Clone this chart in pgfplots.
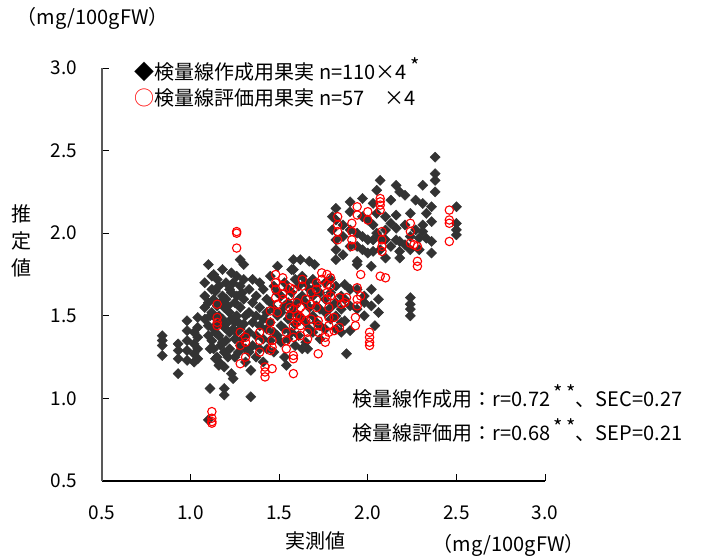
\documentclass[border=0pt]{standalone}
\usepackage{fontspec}
\setmainfont{Noto Sans CJK JP}
\usepackage{pgfplots}
\pgfplotsset{compat=1.18}
\definecolor{dgray}{HTML}{333333}
\definecolor{axgray}{HTML}{595959}
\newcommand{\st}{\raisebox{0.55ex}{*}}
\begin{document}
\fontsize{20}{24}\selectfont
\begin{tikzpicture}[x=1pt,y=1pt]
\useasboundingbox (0,0) rectangle (702,558);
\begin{axis}[
  at={(102pt,77pt)}, anchor=south west,
  width=443pt, height=413pt, scale only axis,
  xmin=0.5, xmax=3.0, ymin=0.5, ymax=3.0,
  axis x line*=bottom, axis y line*=left,
  x axis line style={black, line width=1.2pt, -},
  y axis line style={axgray, line width=2pt, -},
  xtick={0.5,1.0,1.5,2.0,2.5,3.0},
  ytick={0.5,1.0,1.5,2.0,2.5,3.0},
  tick align=inside, major tick length=7pt,
  tick style={black, line width=1pt},
  ticklabel style={font=\fontsize{19}{20}\selectfont},
  xticklabel style={yshift=-18pt},
  yticklabel style={xshift=-18pt},
  /pgf/number format/fixed,
  /pgf/number format/fixed zerofill,
  /pgf/number format/precision=1,
  /pgf/number format/assume math mode=true,
  clip=false,
]
% 検量線作成用果実
\addplot[only marks, mark=square*, mark size=3.6pt, mark options={rotate=45, fill=dgray, draw=dgray}] coordinates {
(0.84,1.38)(0.84,1.35)(0.84,1.32)(0.84,1.26)
(0.93,1.33)(0.93,1.29)(0.93,1.24)(0.93,1.15)
(0.98,1.47)(0.98,1.41)(0.98,1.35)(0.98,1.29)(0.98,1.23)
(1.02,1.40)(1.02,1.33)(1.02,1.27)(1.02,1.22)
(1.04,1.49)(1.04,1.43)(1.04,1.37)(1.04,1.30)(1.04,1.24)
(1.08,1.70)(1.08,1.62)(1.08,1.55)(1.08,1.48)
(1.10,1.81)(1.10,1.58)(1.10,1.44)(1.10,1.38)(1.10,0.87)
(1.11,1.06)(1.11,1.50)(1.11,1.30)
(1.12,1.74)(1.12,1.66)(1.12,1.52)(1.12,1.35)
(1.13,1.75)(1.13,1.60)(1.13,1.50)(1.13,1.42)(1.13,1.30)
(1.14,1.65)(1.14,1.40)(1.14,1.24)
(1.15,1.72)(1.15,1.56)(1.15,1.45)(1.15,1.25)
(1.16,1.68)(1.16,1.50)(1.16,1.38)(1.16,1.20)
(1.17,1.21)(1.17,1.58)(1.17,1.32)
(1.18,1.78)(1.18,1.62)(1.18,1.48)(1.18,1.34)
(1.19,1.55)(1.19,1.43)(1.19,1.28)(1.19,1.19)(1.19,1.06)(1.19,1.02)
(1.20,1.70)(1.20,1.60)(1.20,1.45)(1.20,1.35)
(1.21,1.56)(1.21,1.25)
(1.22,1.66)(1.22,1.52)(1.22,1.40)(1.22,1.30)
(1.23,1.76)(1.23,1.64)(1.23,1.48)(1.23,1.15)
(1.24,1.12)(1.24,1.70)(1.24,1.42)
(1.25,1.58)(1.25,1.46)(1.25,1.36)(1.25,1.25)
(1.26,1.74)(1.26,1.62)(1.26,1.50)(1.26,1.40)
(1.27,1.46)(1.27,1.28)
(1.28,1.84)(1.28,1.68)(1.28,1.55)(1.28,1.42)(1.28,1.32)
(1.29,1.36)(1.29,1.64)
(1.30,1.81)(1.30,1.72)(1.30,1.60)(1.30,1.45)
(1.31,1.50)(1.31,1.38)(1.31,1.30)(1.31,1.22)
(1.33,1.66)(1.33,1.52)(1.33,1.40)(1.33,1.28)
(1.34,1.17)(1.34,1.01)
(1.35,1.72)(1.35,1.58)(1.35,1.46)(1.35,1.32)
(1.37,1.62)(1.37,1.50)(1.37,1.38)(1.37,1.25)
(1.39,1.70)(1.39,1.55)(1.39,1.44)(1.39,1.30)
(1.41,1.66)(1.41,1.48)(1.41,1.36)(1.41,1.22)
(1.43,1.60)(1.43,1.52)(1.43,1.42)(1.43,1.30)
(1.45,1.74)(1.45,1.58)(1.45,1.46)(1.45,1.35)
(1.47,1.68)(1.47,1.54)(1.47,1.40)(1.47,1.28)
(1.49,1.80)(1.49,1.64)(1.49,1.50)(1.49,1.38)
(1.51,1.62)(1.51,1.52)(1.51,1.44)(1.51,1.34)
(1.53,1.70)(1.53,1.56)(1.53,1.42)(1.53,1.25)
(1.54,1.20)
(1.55,1.66)(1.55,1.58)(1.55,1.48)(1.55,1.36)
(1.57,1.78)(1.57,1.64)(1.57,1.52)(1.57,1.40)
(1.58,1.84)(1.58,1.78)
(1.59,1.72)(1.59,1.56)(1.59,1.45)(1.59,1.32)
(1.61,1.68)(1.61,1.60)(1.61,1.50)(1.61,1.38)
(1.62,1.84)
(1.63,1.74)(1.63,1.62)(1.63,1.48)(1.63,1.30)
(1.65,1.70)(1.65,1.58)(1.65,1.46)(1.65,1.34)
(1.66,1.30)
(1.67,1.83)(1.67,1.66)(1.67,1.55)(1.67,1.42)
(1.69,1.72)(1.69,1.62)(1.69,1.50)(1.69,1.40)
(1.70,1.81)
(1.71,1.68)(1.71,1.56)(1.71,1.46)
(1.73,1.64)(1.73,1.54)(1.73,1.44)(1.73,1.36)
(1.76,1.70)(1.76,1.60)(1.76,1.52)(1.76,1.42)
(1.79,1.72)(1.79,1.64)(1.79,1.55)(1.79,1.48)
(1.82,1.68)(1.82,1.58)(1.82,1.50)(1.82,1.42)
(1.85,1.62)(1.85,1.54)(1.85,1.46)(1.85,1.40)
(1.87,1.69)(1.87,1.60)(1.87,1.47)
(1.88,1.27)
(1.90,1.66)(1.90,1.56)(1.90,1.41)
(1.94,1.81)(1.94,1.66)(1.94,1.54)
(1.98,1.62)(1.98,1.58)(1.98,1.50)
(2.02,1.80)(2.02,1.66)(2.02,1.56)
(2.04,1.44)
(2.06,1.60)(2.06,1.52)
(2.24,1.61)(2.24,1.57)(2.24,1.54)(2.24,1.50)
(1.80,2.10)(1.80,2.02)
(1.82,2.15)(1.82,2.08)(1.82,1.96)(1.82,1.90)(1.82,1.84)
(1.86,2.05)(1.86,1.98)(1.86,1.87)
(1.90,2.19)(1.90,2.13)(1.90,2.02)(1.90,1.92)
(1.94,2.00)(1.94,1.92)(1.94,1.83)
(1.97,2.21)(1.97,2.10)(1.97,1.98)(1.97,1.90)
(2.00,2.08)(2.00,1.96)(2.00,1.88)
(2.03,2.18)(2.03,2.05)(2.03,1.96)(2.03,1.89)
(2.05,2.26)(2.05,2.12)(2.05,2.00)
(2.07,2.32)(2.07,1.97)(2.07,1.90)
(2.10,2.10)(2.10,2.02)(2.10,1.96)(2.10,1.85)
(2.13,2.20)(2.13,2.06)(2.13,1.92)
(2.16,2.29)(2.16,2.11)(2.16,2.03)(2.16,1.96)
(2.18,2.25)(2.18,1.95)(2.18,1.89)(2.18,1.85)
(2.21,2.23)(2.21,2.05)(2.21,1.93)
(2.24,2.12)(2.24,1.98)(2.24,1.90)
(2.27,2.20)(2.27,2.02)
(2.29,1.97)(2.29,1.90)
(2.31,2.29)(2.31,2.18)(2.31,2.05)(2.31,2.01)
(2.33,2.12)(2.33,1.97)
(2.36,2.16)(2.36,2.07)(2.36,1.95)(2.36,1.88)
(2.38,2.46)(2.38,2.36)(2.38,2.32)(2.38,2.25)
(2.50,2.16)(2.50,2.06)(2.50,2.02)(2.50,1.99)
};
% 検量線評価用果実
\addplot[only marks, mark=o, mark size=4.2pt, mark options={draw=red, line width=1.1pt}] coordinates {
(1.12,0.92)(1.12,0.88)(1.12,0.86)(1.12,0.85)
(1.15,1.57)(1.15,1.49)(1.15,1.46)(1.15,1.44)
(1.26,2.01)(1.26,2.00)(1.26,1.91)
(1.28,1.40)(1.28,1.32)(1.28,1.21)
(1.31,1.37)(1.31,1.34)(1.31,1.25)
(1.39,1.40)(1.39,1.35)(1.39,1.28)
(1.42,1.19)(1.42,1.16)(1.42,1.13)
(1.45,1.53)(1.45,1.46)(1.45,1.41)(1.45,1.29)
(1.46,1.35)(1.46,1.31)(1.46,1.18)
(1.48,1.75)(1.48,1.70)(1.48,1.66)(1.48,1.61)
(1.49,1.57)(1.49,1.52)
(1.52,1.73)(1.52,1.68)(1.52,1.63)(1.52,1.60)
(1.54,1.40)(1.54,1.35)(1.54,1.30)
(1.56,1.67)(1.56,1.62)(1.56,1.55)(1.56,1.50)
(1.58,1.66)(1.58,1.54)(1.58,1.44)(1.58,1.37)(1.58,1.26)(1.58,1.24)(1.58,1.15)
(1.60,1.58)(1.60,1.50)(1.60,1.46)
(1.62,1.55)(1.62,1.49)(1.62,1.44)(1.62,1.38)
(1.63,1.72)(1.63,1.68)
(1.65,1.60)(1.65,1.52)(1.65,1.47)
(1.66,1.40)(1.66,1.36)
(1.68,1.64)(1.68,1.57)(1.68,1.48)
(1.71,1.70)(1.71,1.66)(1.71,1.60)(1.71,1.55)
(1.72,1.47)(1.72,1.44)(1.72,1.40)(1.72,1.27)
(1.74,1.76)(1.74,1.72)
(1.76,1.37)(1.76,1.34)
(1.77,1.75)(1.77,1.69)(1.77,1.64)(1.77,1.60)
(1.78,1.55)(1.78,1.49)(1.78,1.44)(1.78,1.40)
(1.79,1.73)(1.79,1.68)(1.79,1.62)
(1.81,1.49)(1.81,1.41)
(1.83,2.10)(1.83,2.05)(1.83,2.01)(1.83,1.96)
(1.84,1.61)(1.84,1.43)
(1.85,1.57)
(1.87,1.58)
(1.88,1.61)
(1.91,2.06)(1.91,2.01)(1.91,1.96)(1.91,1.92)
(1.93,1.49)(1.93,1.44)
(1.94,2.16)(1.94,2.11)(1.94,1.67)(1.94,1.60)(1.94,1.56)
(1.96,1.75)(1.96,1.62)
(2.00,2.13)(2.00,2.08)
(2.01,1.40)(2.01,1.37)(2.01,1.34)(2.01,1.32)
(2.07,2.21)(2.07,2.19)(2.07,2.17)(2.07,2.14)(2.07,1.74)
(2.08,2.01)(2.08,1.96)(2.08,1.92)(2.08,1.89)
(2.10,1.73)
(2.24,2.06)(2.24,2.01)(2.24,1.94)
(2.26,1.93)
(2.28,1.92)(2.28,1.83)(2.28,1.80)
(2.46,2.14)(2.46,2.08)(2.46,2.06)(2.46,1.95)
};
\end{axis}
% texts
\node[anchor=west] at (10,540) {（mg/100gFW）};
\node[anchor=west] at (128,488) {◆検量線作成用果実 n=110×4\,\st};
\node[anchor=west] at (128,460) {\textcolor{red}{○}検量線評価用果実 n=57　×4};
\node[anchor=west] at (346,162) {検量線作成用：r=0.72\,\st\,\st、SEC=0.27};
\node[anchor=west] at (346,128) {検量線評価用：r=0.68\,\st\,\st、SEP=0.21};
\node at (315,17) {実測値};
\node[anchor=west] at (426,13) {（mg/100gFW）};
\node[align=center, inner sep=0pt] at (22,317) {推\\[3pt]定\\[3pt]値};
\end{tikzpicture}
\end{document}
